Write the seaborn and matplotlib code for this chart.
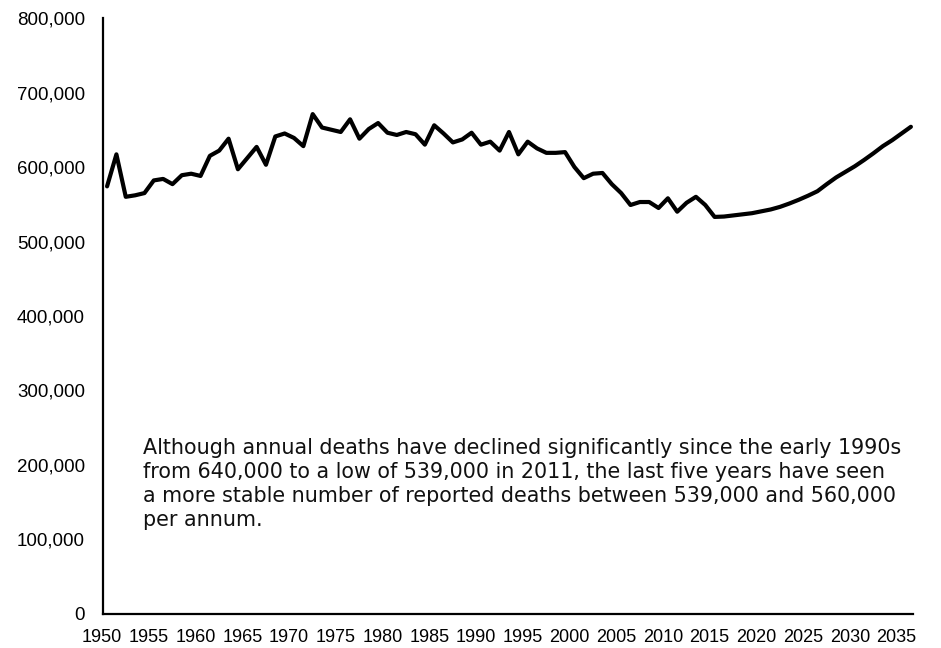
import numpy as np
import pandas as pd
import seaborn as sns
import matplotlib.pyplot as plt
import matplotlib.transforms as mtransforms
from matplotlib.ticker import FuncFormatter

annees = list(range(1950, 2037))
deces = [
    574000, 617000, 560000, 562000, 565000, 582000, 584000, 577000, 589000, 591000,
    588000, 615000, 622000, 638000, 597000, 612000, 627000, 603000, 641000, 645000,
    639000, 628000, 671000, 653000, 650000, 647000, 664000, 638000, 651000, 659000,
    646000, 643000, 647000, 644000, 630000, 656000, 645000, 633000, 637000, 646000,
    630000, 634000, 622000, 647000, 617000, 634000, 625000, 619000, 619000, 620000,
    600000, 585000, 591000, 592000, 577000, 565000, 549000, 553000, 553000, 545000,
    558000, 540000, 552000, 560000, 549000, 533000, 533500, 535000, 536500, 538000,
    540500, 543000, 546500, 551000, 556000, 561500, 567500, 577000, 586000, 593500,
    601000, 609500, 618500, 628000, 636000, 645000, 654000,
]
ticks_x = list(range(1950, 2036, 5))
ticks_y = list(range(0, 800001, 100000))

texte = ("Although annual deaths have declined significantly since the early 1990s\n"
         "from 640,000 to a low of 539,000 in 2011, the last five years have seen\n"
         "a more stable number of reported deaths between 539,000 and 560,000\n"
         "per annum.")

df = pd.DataFrame({"annee": annees, "deces": deces})

sns.set_style("white")
plt.rcParams['font.family'] = ['Liberation Sans', 'DejaVu Sans']

fig = plt.figure(figsize=(9.41, 6.48), dpi=100)
ax = fig.add_axes([0.1095, 0.0525, 0.8605, 0.9197])

sns.lineplot(data=df, x="annee", y="deces", color="black", linewidth=3, ax=ax)

ax.set_xlim(1949.57, 2036.2)
ax.set_ylim(0, 800000)
ax.set_xticks(ticks_x)
ax.set_yticks(ticks_y)
ax.yaxis.set_major_formatter(FuncFormatter(lambda v, p: f"{int(v):,}"))
ax.set_xlabel("")
ax.set_ylabel("")

ax.tick_params(axis='y', labelsize=13.5, length=0, pad=13, labelcolor="black")
ax.tick_params(axis='x', length=0, pad=11, labelcolor="black")

# labels de l'axe x : police étroite, décalés un peu à gauche comme l'original
decalage = mtransforms.ScaledTranslation(-5 / 100, 0, fig.dpi_scale_trans)
for lab in ax.get_xticklabels():
    lab.set_family(['Liberation Sans Narrow', 'Liberation Sans'])
    lab.set_fontsize(13)
    lab.set_transform(lab.get_transform() + decalage)

for s in ["top", "right"]:
    ax.spines[s].set_visible(False)
for s in ["left", "bottom"]:
    ax.spines[s].set_color("black")
    ax.spines[s].set_linewidth(1.6)

fig.text(143 / 941, 1 - 438 / 648, texte, ha="left", va="top",
         fontsize=14.9, family=['DejaVu Sans'], linespacing=1.25, color="#111111")

plt.savefig("out.png", dpi=100)
